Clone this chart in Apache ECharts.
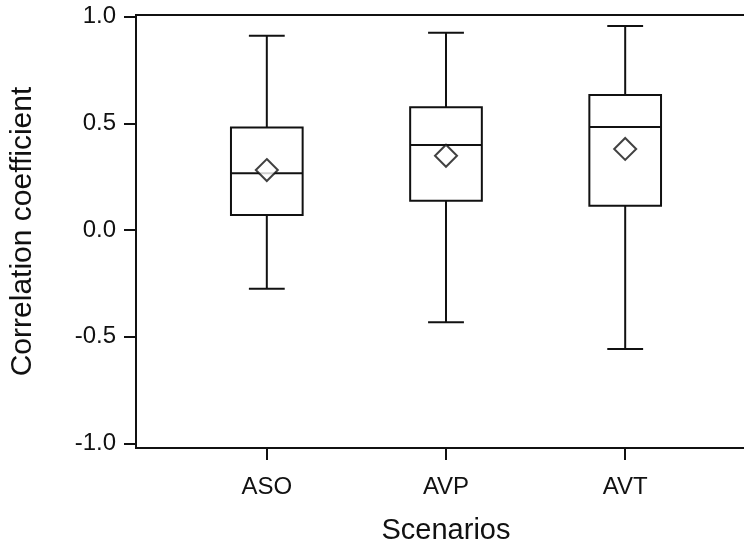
<!DOCTYPE html>
<html>
<head>
<meta charset="utf-8">
<script src="https://cdn.jsdelivr.net/npm/echarts@6/dist/echarts.min.js"></script>
<style>
html,body{margin:0;padding:0;background:#fff;}
#main{width:744px;height:548px;}
</style>
</head>
<body>
<div id="main"></div>
<script>
// box statistics per scenario
var scenarios = ['ASO', 'AVP', 'AVT'];
var positions = [1, 2, 3];
var whiskerLow = [-0.275, -0.433, -0.558];
var q1 = [0.070, 0.137, 0.114];
var median = [0.266, 0.398, 0.483];
var q3 = [0.480, 0.575, 0.633];
var whiskerHigh = [0.911, 0.925, 0.956];
var means = [0.281, 0.348, 0.380];
var yTicks = [-1.0, -0.5, 0.0, 0.5, 1.0];

var myChart = echarts.init(document.getElementById('main'));

var boxData = [];
var meanData = [];
for (var i = 0; i < scenarios.length; i++) {
    boxData.push([positions[i], whiskerLow[i], q1[i], median[i], q3[i], whiskerHigh[i]]);
    meanData.push([positions[i], means[i]]);
}

var lineStyle = {stroke: '#111', lineWidth: 2, fill: null};

function renderBox(params, api) {
    var x = api.value(0);
    var halfBox = 0.2, halfCap = 0.1;
    var pLow = api.coord([x, api.value(1)]);
    var pQ1 = api.coord([x, api.value(2)]);
    var pMed = api.coord([x, api.value(3)]);
    var pQ3 = api.coord([x, api.value(4)]);
    var pHigh = api.coord([x, api.value(5)]);
    var left = api.coord([x - halfBox, 0])[0];
    var right = api.coord([x + halfBox, 0])[0];
    var capL = api.coord([x - halfCap, 0])[0];
    var capR = api.coord([x + halfCap, 0])[0];
    return {
        type: 'group',
        children: [
            {type: 'line', shape: {x1: pHigh[0], y1: pHigh[1], x2: pQ3[0], y2: pQ3[1]}, style: lineStyle},
            {type: 'line', shape: {x1: pLow[0], y1: pLow[1], x2: pQ1[0], y2: pQ1[1]}, style: lineStyle},
            {type: 'line', shape: {x1: capL, y1: pHigh[1], x2: capR, y2: pHigh[1]}, style: lineStyle},
            {type: 'line', shape: {x1: capL, y1: pLow[1], x2: capR, y2: pLow[1]}, style: lineStyle},
            {type: 'rect', shape: {x: left, y: pQ3[1], width: right - left, height: pQ1[1] - pQ3[1]},
                style: {stroke: '#111', lineWidth: 2, fill: '#fff'}},
            {type: 'line', shape: {x1: left, y1: pMed[1], x2: right, y2: pMed[1]}, style: lineStyle}
        ]
    };
}

var option = {
    animation: false,
    backgroundColor: '#fff',
    textStyle: {fontFamily: 'Liberation Sans, Arial, sans-serif'},
    grid: {
        left: 136, top: 15, width: 620, height: 433,
        outerBoundsMode: 'none',
        containLabel: false,
        show: true, borderColor: '#111', borderWidth: 2
    },
    xAxis: {
        type: 'value',
        min: 0.27, max: 3.73,
        name: 'Scenarios',
        nameLocation: 'middle',
        nameGap: 68,
        nameTextStyle: {fontSize: 29, color: '#111', fontFamily: 'Liberation Sans'},
        axisLine: {show: true, onZero: false, lineStyle: {color: '#111', width: 2}},
        axisTick: {show: true, length: 12, customValues: positions, lineStyle: {color: '#111', width: 2}},
        axisLabel: {
            customValues: positions, fontSize: 24, color: '#111', margin: 27,
            fontFamily: 'Liberation Sans',
            formatter: function (v) { return scenarios[positions.indexOf(Math.round(v))] || ''; }
        },
        splitLine: {show: false}
    },
    yAxis: {
        type: 'value',
        min: -1.022, max: 1.008,
        name: 'Correlation coefficient',
        nameLocation: 'middle',
        nameRotate: 90,
        nameGap: 98,
        nameTextStyle: {fontSize: 30, color: '#111', fontFamily: 'Liberation Sans'},
        axisLine: {show: true, lineStyle: {color: '#111', width: 2}},
        axisTick: {show: true, length: 12, customValues: yTicks, lineStyle: {color: '#111', width: 2}},
        axisLabel: {
            customValues: yTicks, fontSize: 24, color: '#111', margin: 20,
            fontFamily: 'Liberation Sans',
            formatter: function (v) { return v.toFixed(1); }
        },
        splitLine: {show: false}
    },
    series: [
        {
            type: 'custom',
            renderItem: renderBox,
            data: boxData,
            encode: {x: 0, y: [1, 2, 3, 4, 5]},
            z: 2
        },
        {
            type: 'scatter',
            data: meanData,
            symbol: 'diamond',
            symbolSize: 22,
            itemStyle: {color: '#fff', borderColor: '#111', borderWidth: 2},
            z: 3
        }
    ]
};
myChart.setOption(option);
</script>
</body>
</html>
